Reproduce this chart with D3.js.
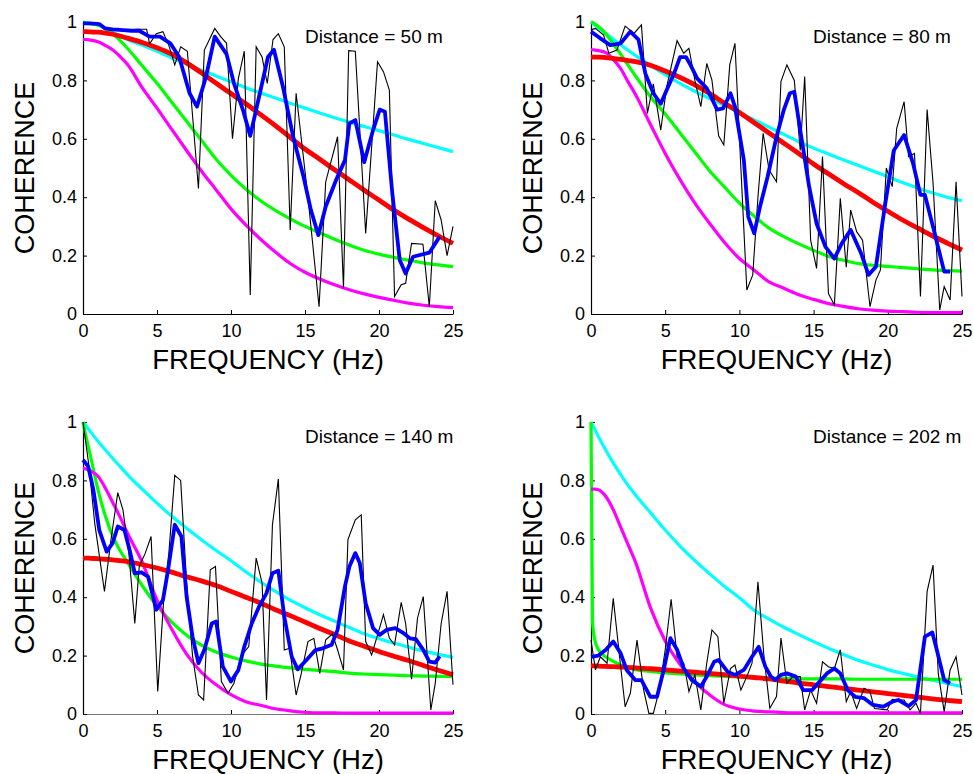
<!DOCTYPE html>
<html>
<head>
<meta charset="utf-8">
<script src="https://cdn.jsdelivr.net/npm/d3@7/dist/d3.min.js"></script>
<style>
  html, body { margin: 0; padding: 0; background: #fff; }
  svg text { font-family: "Liberation Sans", Arial, Helvetica, sans-serif; fill: #000; }
</style>
</head>
<body>
<svg id="chart" width="974" height="774"></svg>
<script>
// Frequency grid shared by the four model curves (Hz)
const freqGrid = [0,0.1,0.25,0.5,1,1.5,2,2.5,3,4,5,6,7,8,9,10,11,12,13,14,15,16,17,18,19,20,21,22,23,24,25];

const xTicks = [0,5,10,15,20,25];
const yTicks = [0,0.2,0.4,0.6,0.8,1];
const distances = ["Distance = 50 m","Distance = 80 m","Distance = 140 m","Distance = 202 m"];

// ---- Distance = 50 m ----
const cyan50    = [1.0,0.999,0.997,0.995,0.99,0.978,0.965,0.952,0.94,0.92,0.90,0.877,0.856,0.835,0.815,0.795,0.775,0.757,0.74,0.722,0.705,0.688,0.672,0.657,0.642,0.628,0.613,0.598,0.584,0.57,0.556];
const red50     = [0.967,0.967,0.967,0.966,0.965,0.962,0.958,0.952,0.945,0.93,0.912,0.89,0.86,0.826,0.79,0.755,0.72,0.683,0.645,0.605,0.565,0.53,0.494,0.459,0.424,0.39,0.356,0.325,0.296,0.268,0.242];
const green50   = [0.995,0.995,0.995,0.994,0.99,0.978,0.96,0.937,0.91,0.85,0.79,0.725,0.66,0.595,0.53,0.475,0.428,0.388,0.355,0.326,0.3,0.278,0.256,0.236,0.218,0.205,0.194,0.184,0.175,0.168,0.162];
const magenta50 = [0.94,0.94,0.94,0.938,0.932,0.92,0.905,0.882,0.855,0.775,0.705,0.632,0.56,0.49,0.425,0.36,0.305,0.256,0.212,0.173,0.143,0.12,0.1,0.083,0.069,0.057,0.047,0.037,0.03,0.025,0.022];
const blue50 = [[0,0.995],[0.5,0.995],[1.1,0.993],[1.5,0.978],[2.0,0.975],[2.7,0.972],[3.3,0.97],[3.8,0.97],[4.5,0.95],[5.2,0.95],[5.9,0.927],[6.5,0.88],[7.2,0.756],[7.7,0.71],[8.3,0.81],[8.9,0.95],[9.7,0.89],[10.2,0.79],[10.8,0.70],[11.3,0.61],[11.9,0.745],[12.5,0.88],[12.9,0.905],[13.5,0.78],[14.2,0.607],[14.9,0.47],[15.4,0.356],[15.9,0.27],[16.4,0.368],[17.1,0.459],[17.7,0.527],[18.0,0.653],[18.4,0.664],[19.0,0.52],[19.6,0.63],[20.05,0.70],[20.4,0.693],[20.9,0.413],[21.4,0.185],[21.8,0.139],[22.3,0.196],[23.4,0.21],[24.1,0.265]];
const black50 = [[0,1.0],[0.4,0.995],[0.8,0.995],[1.2,0.99],[1.6,0.975],[2.0,0.97],[2.4,0.978],[2.8,0.968],[3.2,0.972],[3.6,0.975],[4.0,0.975],[4.3,0.975],[4.5,0.925],[4.95,0.96],[5.4,0.967],[5.8,0.92],[6.2,0.853],[6.6,0.915],[7.05,0.9],[7.8,0.43],[8.2,0.904],[8.9,0.978],[9.3,0.95],[9.7,0.927],[10.1,0.60],[10.5,0.807],[10.9,0.9],[11.3,0.065],[11.7,0.915],[12.1,0.88],[12.45,0.79],[12.84,0.94],[13.2,0.96],[13.6,0.915],[14.0,0.288],[14.4,0.756],[15.2,0.4],[15.95,0.025],[16.4,0.453],[17.2,0.607],[17.6,0.088],[17.95,0.902],[18.4,0.9],[19.1,0.276],[19.9,0.864],[20.3,0.83],[20.7,0.767],[21.05,0.06],[21.5,0.1],[21.8,0.105],[22.2,0.242],[22.97,0.239],[23.4,0.025],[23.8,0.388],[24.2,0.322],[24.6,0.2],[25,0.3]];

// ---- Distance = 80 m ----
const cyan80    = [1.0,0.996,0.99,0.98,0.96,0.941,0.922,0.903,0.885,0.852,0.82,0.79,0.763,0.738,0.714,0.69,0.665,0.64,0.615,0.59,0.568,0.548,0.528,0.509,0.49,0.47,0.45,0.432,0.415,0.4,0.388];
const red80     = [0.88,0.88,0.88,0.88,0.878,0.875,0.872,0.868,0.864,0.852,0.832,0.81,0.785,0.755,0.722,0.69,0.655,0.62,0.585,0.55,0.514,0.48,0.447,0.416,0.383,0.352,0.322,0.295,0.268,0.243,0.219];
const green80   = [1.0,0.998,0.994,0.985,0.96,0.925,0.89,0.852,0.815,0.745,0.685,0.62,0.555,0.49,0.435,0.38,0.335,0.294,0.265,0.24,0.218,0.198,0.184,0.173,0.167,0.163,0.159,0.155,0.151,0.149,0.147];
const magenta80 = [0.905,0.905,0.904,0.902,0.895,0.872,0.84,0.795,0.752,0.65,0.55,0.46,0.38,0.31,0.245,0.19,0.15,0.11,0.088,0.066,0.05,0.036,0.026,0.018,0.013,0.01,0.008,0.006,0.005,0.005,0.005];
const blue80 = [[0,0.967],[0.6,0.945],[1.3,0.921],[2.0,0.927],[2.65,0.967],[3.2,0.94],[3.66,0.824],[4.2,0.756],[4.7,0.72],[5.1,0.767],[5.6,0.824],[6.0,0.88],[6.4,0.88],[6.7,0.853],[7.15,0.807],[7.8,0.773],[8.5,0.70],[8.9,0.704],[9.4,0.756],[9.7,0.71],[10.3,0.527],[10.6,0.333],[11.0,0.276],[11.4,0.37],[11.9,0.47],[12.5,0.607],[13.0,0.70],[13.4,0.756],[13.7,0.761],[14.1,0.63],[14.7,0.436],[15.2,0.31],[15.8,0.23],[16.4,0.19],[16.9,0.242],[17.5,0.288],[18.2,0.208],[18.7,0.134],[19.2,0.162],[19.8,0.368],[20.4,0.56],[21.1,0.613],[21.7,0.516],[22.2,0.408],[22.5,0.408],[23.1,0.288],[23.8,0.145],[24.2,0.145]];
const black80 = [[0,0.973],[0.3,0.978],[0.85,0.955],[1.2,0.893],[1.75,0.904],[2.3,0.986],[2.9,0.961],[3.4,0.99],[3.8,0.687],[4.2,0.788],[4.7,0.63],[5.1,0.778],[5.8,0.936],[6.25,0.893],[6.6,0.91],[7.0,0.8],[7.4,0.71],[7.8,0.858],[8.15,0.801],[8.6,0.61],[8.95,0.579],[9.35,0.853],[9.7,0.927],[10.1,0.5],[10.5,0.082],[10.9,0.134],[11.25,0.4],[11.6,0.619],[12.0,0.493],[12.5,0.453],[12.8,0.796],[13.2,0.853],[13.7,0.8],[14.1,0.56],[14.4,0.813],[14.8,0.253],[15.2,0.156],[15.6,0.539],[16.0,0.07],[16.4,0.031],[16.8,0.396],[17.2,0.16],[17.5,0.356],[17.9,0.282],[18.3,0.253],[18.8,0.025],[19.2,0.116],[19.5,0.15],[19.9,0.5],[20.3,0.436],[20.6,0.636],[21.1,0.727],[21.4,0.539],[21.8,0.55],[22.2,0.06],[22.65,0.70],[23.05,0.448],[23.5,0.014],[23.8,0.094],[24.2,0.048],[24.6,0.453],[25,0.06]];

// ---- Distance = 140 m ----
const cyan140    = [1.0,0.993,0.984,0.967,0.935,0.905,0.876,0.848,0.82,0.77,0.722,0.677,0.636,0.597,0.56,0.525,0.487,0.452,0.42,0.39,0.364,0.34,0.318,0.296,0.275,0.258,0.243,0.229,0.216,0.204,0.194];
const red140     = [0.534,0.534,0.534,0.533,0.532,0.53,0.528,0.525,0.522,0.512,0.5,0.486,0.47,0.456,0.44,0.42,0.4,0.38,0.357,0.337,0.315,0.293,0.272,0.25,0.232,0.214,0.198,0.183,0.166,0.15,0.134];
const green140   = [1.0,0.975,0.94,0.885,0.77,0.68,0.61,0.56,0.52,0.44,0.37,0.315,0.27,0.236,0.212,0.195,0.182,0.171,0.164,0.158,0.153,0.149,0.145,0.14,0.137,0.135,0.133,0.131,0.13,0.129,0.128];
const magenta140 = [0.84,0.84,0.838,0.833,0.815,0.775,0.725,0.675,0.62,0.52,0.39,0.29,0.205,0.143,0.1,0.066,0.042,0.03,0.018,0.011,0.006,0.004,0.004,0.003,0.003,0.003,0.003,0.003,0.003,0.003,0.003];
const blue140 = [[0,0.87],[0.35,0.848],[0.7,0.768],[1.1,0.63],[1.6,0.556],[2.0,0.585],[2.35,0.642],[2.8,0.63],[3.15,0.562],[3.5,0.482],[3.95,0.485],[4.4,0.47],[4.95,0.357],[5.4,0.39],[5.75,0.494],[6.2,0.648],[6.65,0.608],[7.0,0.402],[7.4,0.265],[7.8,0.174],[8.2,0.22],[8.7,0.31],[9.0,0.317],[9.45,0.162],[10.0,0.111],[10.5,0.151],[10.9,0.231],[11.4,0.31],[11.9,0.368],[12.4,0.414],[12.8,0.482],[13.2,0.491],[13.6,0.334],[14.1,0.197],[14.5,0.153],[15.1,0.185],[15.7,0.219],[16.2,0.225],[16.8,0.237],[17.2,0.288],[17.7,0.437],[18.0,0.505],[18.4,0.551],[18.7,0.517],[19.1,0.379],[19.6,0.294],[20.05,0.271],[20.5,0.288],[21.1,0.294],[21.6,0.279],[22.1,0.259],[22.5,0.256],[23.0,0.219],[23.4,0.179],[23.8,0.176],[24.1,0.197]];
const black140 = [[0,1.0],[0.4,0.85],[0.8,0.65],[1.45,0.42],[1.9,0.6],[2.35,0.758],[2.7,0.699],[3.1,0.55],[3.5,0.31],[3.8,0.505],[4.2,0.55],[4.6,0.608],[5.05,0.077],[5.45,0.39],[5.8,0.55],[6.2,0.817],[6.6,0.8],[7.0,0.45],[7.4,0.2],[7.8,0.065],[8.15,0.048],[8.6,0.494],[8.95,0.505],[9.35,0.111],[9.8,0.071],[10.2,0.105],[10.7,0.2],[11.2,0.231],[11.7,0.534],[12.1,0.448],[12.4,0.048],[12.8,0.648],[13.2,0.805],[13.6,0.219],[13.96,0.225],[14.4,0.065],[14.75,0.139],[15.2,0.248],[15.6,0.259],[16.0,0.139],[16.4,0.254],[16.85,0.274],[17.2,0.22],[17.6,0.151],[17.9,0.597],[18.4,0.665],[18.8,0.682],[19.1,0.248],[19.5,0.202],[19.9,0.27],[20.3,0.34],[20.7,0.26],[21.05,0.237],[21.5,0.382],[21.8,0.31],[22.2,0.119],[22.6,0.328],[22.99,0.402],[23.5,0.014],[23.8,0.105],[24.2,0.31],[24.6,0.42],[25,0.1]];

// ---- Distance = 202 m ----
const cyan202    = [1.0,0.99,0.975,0.95,0.903,0.86,0.82,0.783,0.75,0.69,0.63,0.575,0.525,0.48,0.437,0.398,0.355,0.325,0.297,0.272,0.248,0.225,0.204,0.184,0.168,0.152,0.139,0.127,0.116,0.105,0.094];
const red202     = [0.165,0.165,0.165,0.164,0.163,0.162,0.161,0.16,0.158,0.155,0.151,0.147,0.143,0.139,0.135,0.13,0.125,0.12,0.113,0.106,0.1,0.094,0.088,0.082,0.076,0.07,0.064,0.058,0.052,0.047,0.042];
const green202   = [1.0,0.32,0.255,0.22,0.195,0.18,0.168,0.159,0.152,0.146,0.141,0.137,0.134,0.131,0.129,0.127,0.125,0.123,0.122,0.121,0.12,0.12,0.12,0.119,0.119,0.119,0.119,0.119,0.119,0.119,0.119];
const magenta202 = [0.77,0.77,0.77,0.768,0.745,0.7,0.64,0.58,0.52,0.365,0.25,0.17,0.11,0.065,0.032,0.017,0.01,0.007,0.005,0.004,0.004,0.004,0.004,0.004,0.004,0.004,0.004,0.004,0.004,0.004,0.004];
const blue202 = [[0,0.196],[0.5,0.2],[1.0,0.22],[1.5,0.248],[2.0,0.208],[2.4,0.151],[3.0,0.116],[3.4,0.116],[4.0,0.059],[4.45,0.059],[4.9,0.151],[5.35,0.26],[5.8,0.22],[6.25,0.156],[6.8,0.116],[7.4,0.094],[7.8,0.128],[8.3,0.179],[8.6,0.185],[9.2,0.145],[9.7,0.134],[10.3,0.151],[10.85,0.196],[11.3,0.23],[11.75,0.162],[12.1,0.13],[12.4,0.116],[12.8,0.134],[13.2,0.139],[13.8,0.128],[14.3,0.082],[14.9,0.082],[15.5,0.116],[15.9,0.139],[16.4,0.156],[16.8,0.139],[17.3,0.082],[17.8,0.059],[18.4,0.054],[19.0,0.031],[19.7,0.025],[20.3,0.042],[20.7,0.048],[21.4,0.027],[21.9,0.048],[22.2,0.156],[22.5,0.265],[23.0,0.279],[23.3,0.22],[23.8,0.116],[24.2,0.105]];
const black202 = [[0,0.253],[0.3,0.151],[0.63,0.196],[1.08,0.174],[1.5,0.396],[1.9,0.208],[2.3,0.025],[2.65,0.071],[3.1,0.253],[3.55,0.082],[3.9,0.002],[4.2,0.002],[4.6,0.082],[5.0,0.22],[5.4,0.393],[5.8,0.196],[6.25,0.174],[6.6,0.077],[7.0,0.134],[7.4,0.014],[7.8,0.174],[8.15,0.288],[8.55,0.265],[8.95,0.037],[9.4,0.156],[9.7,0.168],[10.1,0.082],[10.5,0.128],[10.85,0.174],[11.25,0.453],[11.65,0.2],[12.05,0.02],[12.5,0.06],[12.8,0.26],[13.2,0.105],[13.6,0.128],[14.1,0.128],[14.4,0.014],[14.8,0.082],[15.2,0.037],[15.6,0.179],[16.0,0.162],[16.4,0.156],[16.8,0.22],[17.2,0.042],[17.5,0.077],[17.9,0.019],[18.4,0.088],[18.8,0.077],[19.1,0.019],[19.95,0.014],[20.3,0.05],[20.7,0.048],[21.1,0.048],[21.5,0.014],[21.9,0.037],[22.2,0.002],[22.65,0.42],[23.05,0.51],[23.4,0.139],[23.8,0.008],[24.2,0.151],[24.6,0.196],[25,0.065]];

// Panel frames (pixel boxes of each plot area); lower row has a grey baseline
const panels = [
  { box: { left: 83,  right: 453, top: 22,  bottom: 314 }, baseColor: "#000", label: distances[0], cyan: cyan50,  red: red50,  green: green50,  magenta: magenta50,  blue: blue50,  black: black50 },
  { box: { left: 591, right: 962, top: 22,  bottom: 314 }, baseColor: "#000", label: distances[1], cyan: cyan80,  red: red80,  green: green80,  magenta: magenta80,  blue: blue80,  black: black80 },
  { box: { left: 83,  right: 453, top: 422, bottom: 714 }, baseColor: "#777", label: distances[2], cyan: cyan140, red: red140, green: green140, magenta: magenta140, blue: blue140, black: black140 },
  { box: { left: 591, right: 962, top: 422, bottom: 714 }, baseColor: "#777", label: distances[3], cyan: cyan202, red: red202, green: green202, magenta: magenta202, blue: blue202, black: black202 }
];

const svg = d3.select("#chart");

panels.forEach(p => {
  const b = p.box;
  const x = d3.scaleLinear().domain([0, 25]).range([b.left, b.right]);
  const y = d3.scaleLinear().domain([0, 1]).range([b.bottom, b.top]);
  const g = svg.append("g");

  const smooth = d3.line().x((d, i) => x(freqGrid[i])).y(d => y(d)).curve(d3.curveMonotoneX);
  const raw = d3.line().x(d => x(d[0])).y(d => y(d[1]));

  // Axes with inward ticks (drawn first, curves lie over them)
  const xAxis = d3.axisBottom(x).tickValues(xTicks).tickFormat(d => String(d))
    .tickSizeInner(-4).tickSizeOuter(0).tickPadding(10);
  const yAxis = d3.axisLeft(y).tickValues(yTicks).tickFormat(d => String(d))
    .tickSizeInner(-4).tickSizeOuter(0).tickPadding(6);

  const gx = g.append("g").attr("transform", `translate(0,${b.bottom})`).call(xAxis);
  const gy = g.append("g").attr("transform", `translate(${b.left},0)`).call(yAxis);
  [gx, gy].forEach(a => {
    a.selectAll(".tick line").attr("stroke", "#000");
    a.selectAll(".tick text").attr("font-size", 18).attr("font-family", "Liberation Sans, Arial, sans-serif").attr("fill", "#000");
  });
  gy.select(".domain").attr("stroke", "#000").attr("stroke-width", 1.2);
  gx.select(".domain").attr("stroke", p.baseColor).attr("stroke-width", 1.2);

  const model = [
    { data: p.cyan,    color: "#00ffff", w: 3.2 },
    { data: p.green,   color: "#00ff00", w: 3.2 },
    { data: p.magenta, color: "#ff00ff", w: 3.2 },
    { data: p.red,     color: "#ff0000", w: 4.8 }
  ];
  model.forEach(m => {
    g.append("path").attr("d", smooth(m.data)).attr("fill", "none")
      .attr("stroke", m.color).attr("stroke-width", m.w).attr("stroke-linejoin", "round");
  });

  g.append("path").attr("d", raw(p.black)).attr("fill", "none")
    .attr("stroke", "#000").attr("stroke-width", 1.1).attr("stroke-linejoin", "miter");
  g.append("path").attr("d", raw(p.blue)).attr("fill", "none")
    .attr("stroke", "#0000ff").attr("stroke-width", 3.8).attr("stroke-linejoin", "round");

  g.append("text").attr("x", (b.left + b.right) / 2).attr("y", b.bottom + 55)
    .attr("text-anchor", "middle").attr("font-size", 27.5).text("FREQUENCY (Hz)");
  g.append("text").attr("transform", `translate(${b.left - 49},${(b.top + b.bottom) / 2}) rotate(-90)`)
    .attr("text-anchor", "middle").attr("font-size", 27).text("COHERENCE");
  g.append("text").attr("x", b.left + 222).attr("y", b.top + 21)
    .attr("font-size", 19).text(p.label);
});
</script>
</body>
</html>
